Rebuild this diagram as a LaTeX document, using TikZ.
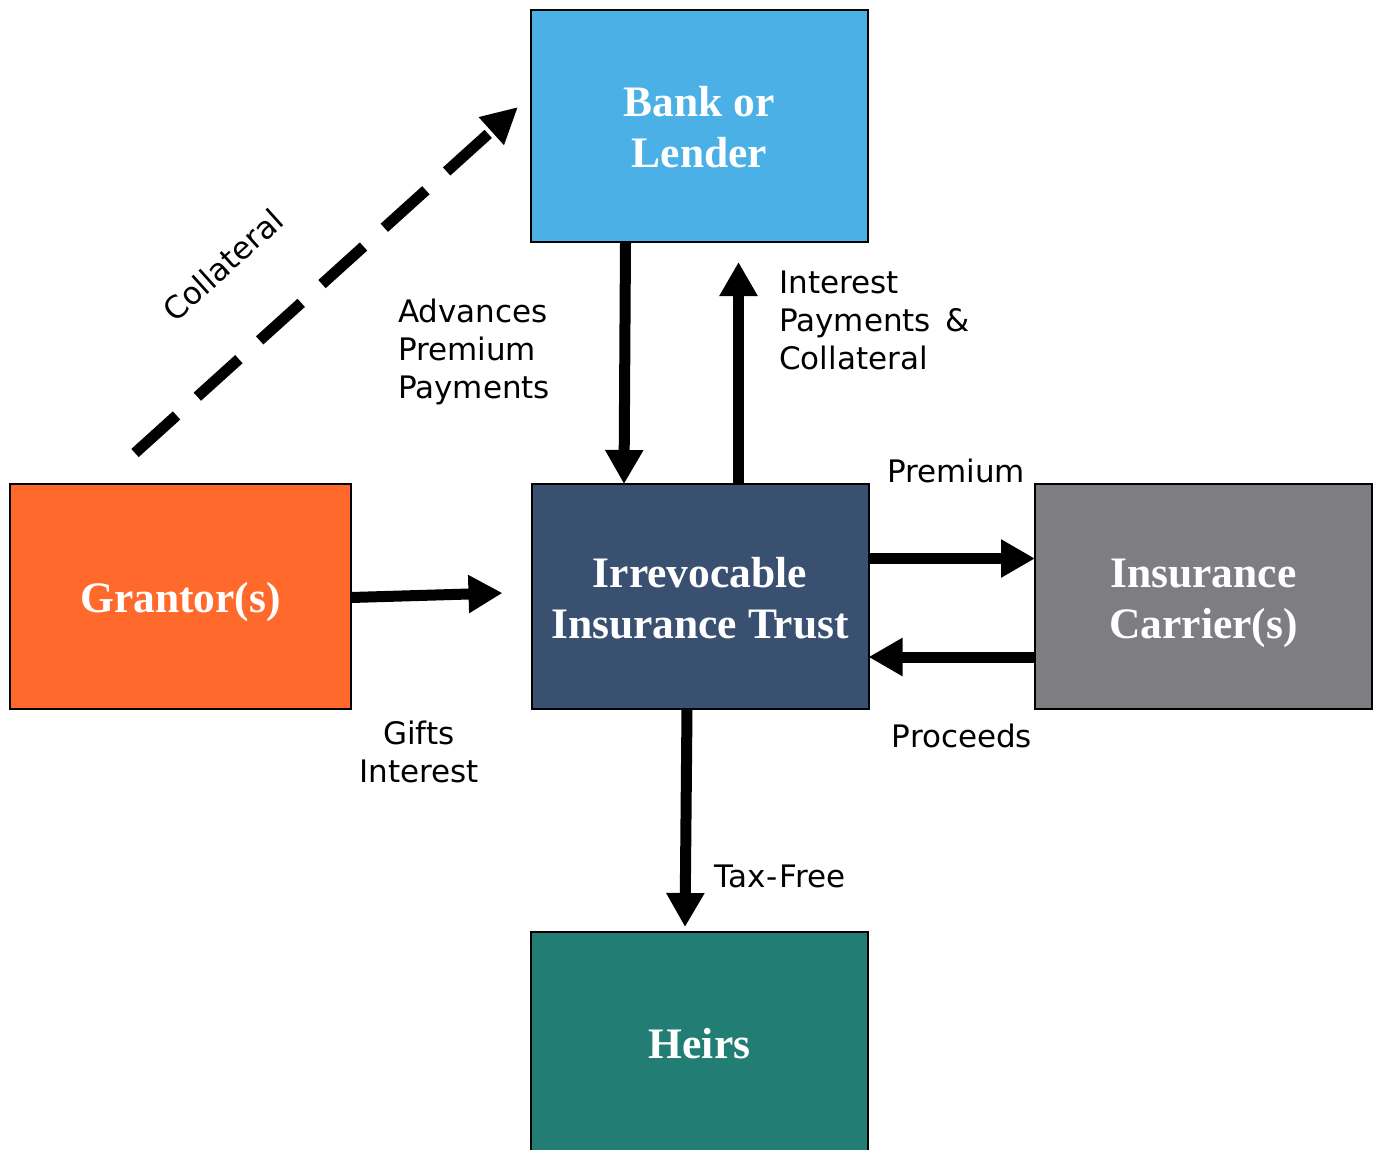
\documentclass[tikz,border=0pt]{standalone}
\usepackage{fontspec}
\setmainfont{Liberation Serif}
\newfontfamily\labfont{DejaVu Sans}
\usetikzlibrary{arrows.meta}
\definecolor{bankblue}{RGB}{74,176,230}
\definecolor{trustblue}{RGB}{58,80,112}
\definecolor{grantorange}{RGB}{255,106,44}
\definecolor{carriergray}{RGB}{126,125,130}
\definecolor{heirsgreen}{RGB}{34,126,116}
\newcommand{\boxtop}{\rule{0pt}{47.7pt}}
\newcommand{\boxbot}{\rule[-15.3pt]{0pt}{15.3pt}}
\tikzset{
  box/.style={draw=black, line width=2pt, rectangle, inner sep=0pt, outer sep=0pt,
    minimum width=337pt, minimum height=225pt, text=white, align=center,
    font=\fontsize{43.5}{51}\selectfont\bfseries},
  arr/.style={line width=11pt, -{Triangle[length=34pt,width=36pt]}},
  dasharr/.style={line width=11pt, dash pattern=on 56pt off 28pt, -{Triangle[length=36pt,width=35pt]}},
  lab/.style={inner sep=0pt, font=\labfont\fontsize{31}{38}\selectfont, text=black}
}
\begin{document}
\begin{tikzpicture}[x=1pt,y=-1pt]
\useasboundingbox (0,0) rectangle (1375,1149);
\node[box, fill=bankblue, minimum height=232pt] (bank) at (699.5,126) {\boxtop Bank or\\Lender\boxbot};
\node[box, fill=trustblue] (trust) at (700,596.5) {\boxtop Irrevocable\\Insurance Trust\boxbot};
\node[box, fill=grantorange, minimum width=341pt] (grantor) at (180.5,596.5) {\boxtop Grantor(s)\boxbot};
\node[box, fill=carriergray] (carrier) at (1203.5,596.5) {\boxtop Insurance\\Carrier(s)\boxbot};
\node[box, fill=heirsgreen, minimum height=220pt] (heirs) at (699.5,1042) {\boxtop Heirs\boxbot};

\draw[arr] ([xshift=-74pt]bank.south) -- ([xshift=-76pt]trust.north);
\draw[arr] ([xshift=38.5pt]trust.north) -- ([xshift=39pt,yshift=-20pt]bank.south);
\draw[arr] ([yshift=-1pt]grantor.east) -- ([xshift=-29pt,yshift=3.5pt]trust.west);
\draw[arr] ([yshift=38pt]trust.east) -- ([yshift=38pt]carrier.west);
\draw[arr] ([yshift=-60.5pt]carrier.west) -- ([yshift=-60.5pt]trust.east);
\draw[arr] ([xshift=-13pt]trust.south) -- ([xshift=-14.5pt,yshift=5pt]heirs.north);
\draw[dasharr] ([xshift=-45.5pt,yshift=31pt]grantor.north) -- ([xshift=-13pt,yshift=19pt]bank.west);

\node[lab, rotate=42] (lcoll) at (223,265) {Collateral};
\node[lab, anchor=west, align=left] (ladv) at (398,352) {Advances\\Premium\\Payments};
\node[lab, anchor=west, align=left] (lint) at (779,320) {Interest\\Payments\hspace{14.7pt}\&\\Collateral};
\node[lab] (lprem) at (956,471) {Premium};
\node[lab, align=center] (lgift) at (419,752) {Gifts\\Interest};
\node[lab] (lproc) at (962,736) {Proceeds};
\node[lab, anchor=west] (ltax) at (714,876) {Tax\kern1.5pt-\kern1.5pt Free};
\end{tikzpicture}
\end{document}
